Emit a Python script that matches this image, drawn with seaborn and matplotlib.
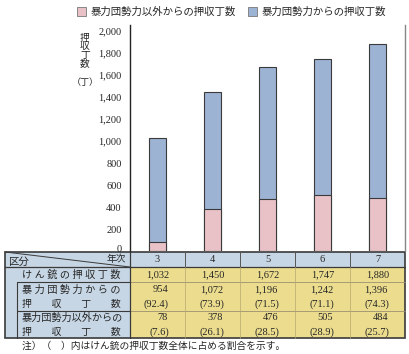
import matplotlib
matplotlib.use('Agg')
import matplotlib.pyplot as plt
import matplotlib.transforms as mtransforms
import seaborn as sns
import pandas as pd
from matplotlib.patches import Rectangle, Patch
from matplotlib.lines import Line2D

# ---- data ----
years = ['3', '4', '5', '6', '7']
total = [1032, 1450, 1672, 1747, 1880]
gang = [954, 1072, 1196, 1242, 1396]
gang_pct = ['92.4', '73.9', '71.5', '71.1', '74.3']
nongang = [78, 378, 476, 505, 484]
nongang_pct = ['7.6', '26.1', '28.5', '28.9', '25.7']
yticks = [0, 200, 400, 600, 800, 1000, 1200, 1400, 1600, 1800, 2000]
legend_labels = ['暴力団勢力以外からの押収丁数', '暴力団勢力からの押収丁数']
row_labels = ['け ん 銃 の 押 収 丁 数',
              ('暴 力 団 勢 力 か ら の', '押　　収　　丁　　数'),
              ('暴力団勢力以外からの', '押　　収　　丁　　数')]

BLUE = '#9cb3d3'
PINK = '#e9c2c8'
TBLUE = '#c7d6e4'
TYELLOW = '#ecdd8e'
EDGE = '#3a3a3a'

sns.set_theme(style='white')
plt.rcParams['font.family'] = ['Liberation Serif', 'Noto Sans CJK JP']

W, H = 409, 354
fig = plt.figure(figsize=(W / 100, H / 100), dpi=100)
fig.patch.set_facecolor('white')

# main chart axes
ax = fig.add_axes([130 / W, 1 - 251 / H, 275 / W, 226 / H])
df = pd.DataFrame({'year': years, 'total': total, 'gang': gang, 'non': nongang})
sns.barplot(data=df, x='year', y='total', color=BLUE, saturation=1, width=0.3,
            edgecolor=EDGE, linewidth=0.8, ax=ax)
sns.barplot(data=df, x='year', y='non', color=PINK, saturation=1, width=0.3,
            edgecolor=EDGE, linewidth=0.8, ax=ax)
ax.set_xlim(-0.5, 4.5)
ax.set_ylim(0, 2055)
ax.set_xticks([])
ax.set_xlabel('')
ax.set_ylabel('')
ax.set_yticks(yticks)
ax.set_yticklabels([f'{v:,}' for v in yticks], fontsize=7.5)
ax.tick_params(axis='y', length=0, pad=6)
# lift the "0" label slightly, as in the reference
lbl0 = ax.get_yticklabels()[0]
lbl0.set_transform(lbl0.get_transform() + mtransforms.ScaledTranslation(0, 3 / 100, fig.dpi_scale_trans))
for s in ['top', 'bottom']:
    ax.spines[s].set_visible(False)
ax.spines['left'].set_color('#222222')
ax.spines['left'].set_linewidth(1.0)
ax.spines['right'].set_color('#888888')
ax.spines['right'].set_linewidth(1.0)
ax.set_facecolor('white')

# legend
handles = [Patch(facecolor=PINK, edgecolor='#777777', linewidth=0.6),
           Patch(facecolor=BLUE, edgecolor='#777777', linewidth=0.6)]
fig.legend(handles, legend_labels, loc='center', bbox_to_anchor=(0.566, 1 - 12 / H),
           ncol=2, frameon=False, fontsize=7.5, handlelength=0.9, handleheight=0.9,
           handletextpad=0.4, columnspacing=1.2)

# overlay in pixel coords for table and labels
ov = fig.add_axes([0, 0, 1, 1], zorder=-1)
ov.set_xlim(0, W)
ov.set_ylim(H, 0)
ov.axis('off')
ov.patch.set_alpha(0)

# y-axis title
ov.text(85, 51, '押\n収\n丁\n数', ha='center', va='center', fontsize=7, linespacing=0.95)
ov.text(85, 83, '（丁）', ha='center', va='center', fontsize=6.5)

# table geometry
x0, xl, cw = 5, 130, 55
rows = [252, 267, 282, 311, 338]
xr = xl + cw * len(years)

ov.add_patch(Rectangle((x0, rows[0]), xr - x0, rows[1] - rows[0], facecolor=TBLUE, edgecolor='none'))
ov.add_patch(Rectangle((x0, rows[1]), xl - x0, rows[4] - rows[1], facecolor=TBLUE, edgecolor='none'))
ov.add_patch(Rectangle((xl, rows[1]), xr - xl, rows[4] - rows[1], facecolor=TYELLOW, edgecolor='none'))

def line(xs, ys, c=EDGE, lw=0.8):
    ov.add_line(Line2D(xs, ys, color=c, linewidth=lw))

# horizontal lines
line([x0, xr], [rows[1], rows[1]], EDGE, 0.9)
line([17, xl], [rows[2], rows[2]], EDGE, 0.8)
line([17, xl], [rows[3], rows[3]], EDGE, 0.8)
line([xl, xr], [rows[2], rows[2]], '#9a9070', 0.6)
line([xl, xr], [rows[3], rows[3]], '#9a9070', 0.6)
line([17, 17], [rows[2], rows[4]], EDGE, 0.8)
# vertical lines
line([xl, xl], [rows[0], rows[4]], EDGE, 0.9)
for i in range(1, len(years)):
    xv = xl + cw * i
    line([xv, xv], [rows[0], rows[1]], '#555555', 0.7)
    line([xv, xv], [rows[1], rows[4]], '#b5a870', 0.5)
# diagonal
line([x0, xl], [rows[0], rows[1]], EDGE, 0.7)
# outer border
ov.add_patch(Rectangle((x0, rows[0]), xr - x0, rows[4] - rows[0], facecolor='none',
                       edgecolor=EDGE, linewidth=1.2))

fs = 7.5
ov.text(8, 262, '区分', ha='left', va='center', fontsize=fs)
ov.text(126, 259, '年次', ha='right', va='center', fontsize=7)

ov.text(22, 275, row_labels[0], ha='left', va='center', fontsize=7.3)
ov.text(22, 290, row_labels[1][0], ha='left', va='center', fontsize=7.3)
ov.text(22, 304, row_labels[1][1], ha='left', va='center', fontsize=7.1)
ov.text(22, 318, row_labels[2][0], ha='left', va='center', fontsize=7.3)
ov.text(22, 332, row_labels[2][1], ha='left', va='center', fontsize=7.1)

for i, yr in enumerate(years):
    cx = xl + cw * (i + 0.5)
    rx = xl + cw * (i + 1) - 17
    ov.text(cx, 260, yr, ha='center', va='center', fontsize=fs)
    ov.text(cx, 275, f'{total[i]:,}', ha='center', va='center', fontsize=fs)
    ov.text(rx, 290, f'{gang[i]:,}', ha='right', va='center', fontsize=fs)
    ov.text(rx + 1, 304, f'({gang_pct[i]})', ha='right', va='center', fontsize=fs)
    ov.text(rx, 318, f'{nongang[i]:,}', ha='right', va='center', fontsize=fs)
    ov.text(rx + 1, 332, f'({nongang_pct[i]})', ha='right', va='center', fontsize=fs)

ov.text(22, 346, '注）（　）内はけん銃の押収丁数全体に占める割合を示す。', ha='left', va='center', fontsize=7)

fig.savefig('out.png', dpi=100)
